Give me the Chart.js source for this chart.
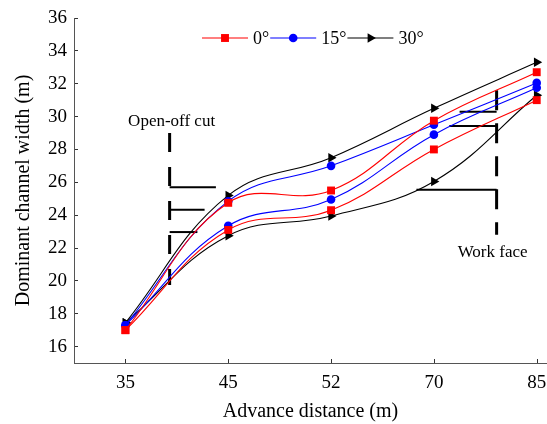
<!DOCTYPE html>
<html><head><meta charset="utf-8">
<script src="https://cdn.jsdelivr.net/npm/chart.js@4/dist/chart.umd.min.js"></script>
<style>html,body{margin:0;padding:0;background:#fff;}</style>
</head><body>
<canvas id="c" width="547" height="424"></canvas>
<script>
// ---- data ----
const xLabels = ['35', '45', '52', '70', '85'];
const yTicks = [16, 18, 20, 22, 24, 26, 28, 30, 32, 34, 36];
const seriesNames = ['0°', '15°', '30°'];
const deg0Upper  = [17.0, 24.75, 25.5, 29.75, 32.7];
const deg0Lower  = [17.0, 23.1, 24.3, 28.0, 31.0];
const deg15Upper = [17.3, 24.85, 27.0, 29.5, 32.05];
const deg15Lower = [17.3, 23.35, 24.95, 28.9, 31.75];
const deg30Upper = [17.45, 25.2, 27.5, 30.5, 33.3];
const deg30Lower = [17.45, 22.75, 23.95, 26.05, 31.3];
// annotation marks (data units: x = category index, y = width)
const openCutX = 0.43;
const openCutY = [29.0, 19.75];
const openCutBarY = [25.7, 24.33, 22.97];
const openCutBarEndX = [0.88, 0.77, 0.70];
const workFaceX = 3.61;
const workFaceY = [31.6, 22.8];
const workFaceBarY = [30.3, 29.43, 25.54];
const workFaceBarStartX = [3.25, 3.15, 2.83];
const annotationTexts = ['Open-off cut', 'Work face'];

const FONT = '"Liberation Serif", "Times New Roman", serif';
Chart.defaults.font.family = FONT;
Chart.defaults.color = '#000';

const toXY = arr => arr.map((v, i) => ({x: i, y: v}));

function series(values, color, style, radius, rot, legendText) {
  return {
    data: toXY(values), borderColor: color, backgroundColor: color,
    pointBackgroundColor: color, pointBorderColor: color, pointBorderWidth: 0,
    pointStyle: style, pointRadius: radius, pointRotation: rot,
    borderWidth: 1.1, tension: 0.4, fill: false, order: 0, legendText: legendText
  };
}
function annot(points, width, dash) {
  return {
    data: points, borderColor: '#000', borderWidth: width, borderDash: dash || [],
    pointRadius: 0, tension: 0, fill: false, order: 10, borderCapStyle: 'butt'
  };
}

const datasets = [
  series(deg0Upper, '#ff0000', 'rect', 5.6, 0, seriesNames[0]),
  series(deg0Lower, '#ff0000', 'rect', 5.6, 0, null),
  series(deg15Upper, '#0000ff', 'circle', 4.3, 0, seriesNames[1]),
  series(deg15Lower, '#0000ff', 'circle', 4.3, 0, null),
  series(deg30Upper, '#000000', 'triangle', 5.5, 90, seriesNames[2]),
  series(deg30Lower, '#000000', 'triangle', 5.5, 90, null),
  annot([{x: openCutX, y: openCutY[0]}, {x: openCutX, y: openCutY[1]}], 3, [19, 15]),
  annot([{x: workFaceX, y: workFaceY[0]}, {x: workFaceX, y: workFaceY[1]}], 3, [20, 13]),
];
openCutBarY.forEach((y, i) => datasets.push(annot([{x: openCutX, y: y}, {x: openCutBarEndX[i], y: y}], 2)));
workFaceBarY.forEach((y, i) => datasets.push(annot([{x: workFaceBarStartX[i], y: y}, {x: workFaceX, y: y}], 2)));

const extras = {
  id: 'extras',
  afterDraw(chart) {
    const ctx = chart.ctx, sx = chart.scales.x, sy = chart.scales.y;
    ctx.save();
    // inward x tick marks
    ctx.strokeStyle = '#333'; ctx.lineWidth = 1;
    sx.ticks.forEach(t => {
      const px = Math.round(sx.getPixelForValue(t.value)) + 0.5;
      ctx.beginPath(); ctx.moveTo(px, sx.top); ctx.lineTo(px, sx.top - 4); ctx.stroke();
    });
    // annotation texts
    ctx.font = '17px ' + FONT;
    ctx.fillStyle = '#000';
    ctx.textAlign = 'center';
    ctx.textBaseline = 'middle';
    ctx.fillText(annotationTexts[0], sx.getPixelForValue(openCutX) + 2, sy.getPixelForValue(openCutY[0]) - 11);
    ctx.fillText(annotationTexts[1], sx.getPixelForValue(workFaceX) - 4, sy.getPixelForValue(workFaceY[1]) + 18);
    // legend
    ctx.font = '18px ' + FONT;
    ctx.textAlign = 'left';
    let x = 202; const y = 38;
    chart.data.datasets.forEach(ds => {
      if (!ds.legendText) return;
      ctx.strokeStyle = ds.borderColor; ctx.lineWidth = 1.1; ctx.setLineDash([]);
      ctx.beginPath(); ctx.moveTo(x, y); ctx.lineTo(x + 46, y); ctx.stroke();
      ctx.fillStyle = ds.pointBackgroundColor;
      Chart.helpers.drawPoint(ctx, {pointStyle: ds.pointStyle, radius: ds.pointRadius, rotation: ds.pointRotation, borderWidth: 0}, x + 23, y);
      ctx.fillStyle = '#000';
      ctx.fillText(ds.legendText, x + 51, y + 1);
      x = x + 51 + ctx.measureText(ds.legendText).width + 1;
    });
    ctx.restore();
  }
};

new Chart(document.getElementById('c'), {
  type: 'line',
  data: {datasets: datasets},
  plugins: [extras],
  options: {
    responsive: false, animation: false, devicePixelRatio: 1,
    layout: {autoPadding: false, padding: {top: 18, right: 0, left: 0, bottom: 0}},
    plugins: {legend: {display: false}, tooltip: {enabled: false}},
    elements: {line: {borderCapStyle: 'butt'}},
    scales: {
      x: {
        type: 'linear', min: -0.5, max: 4.1,
        afterBuildTicks: s => { s.ticks = xLabels.map((_, i) => ({value: i})); },
        afterFit: s => { s.height = 61; s.paddingLeft = 0; s.paddingRight = 0; },
        ticks: {font: {size: 19}, padding: 0, color: '#000', maxRotation: 0,
                callback: v => xLabels[v]},
        grid: {drawOnChartArea: false, tickLength: 9, tickColor: 'rgba(0,0,0,0)'},
        border: {color: '#555', width: 1},
        title: {display: true, text: 'Advance distance (m)', font: {size: 20}, padding: {top: 0, bottom: 0}, color: '#000'}
      },
      y: {
        type: 'linear', min: 15, max: 36,
        afterBuildTicks: s => { s.ticks = yTicks.map(v => ({value: v})); },
        afterFit: s => { s.width = 74; s.paddingTop = 0; s.paddingBottom = 0; },
        ticks: {font: {size: 19}, padding: 11, color: '#000'},
        grid: {drawOnChartArea: false, tickLength: -4, color: '#333', tickWidth: 1},
        border: {color: '#555', width: 1},
        title: {display: true, text: 'Dominant channel width (m)', font: {size: 20}, padding: {top: 12, bottom: 0}, color: '#000'}
      }
    }
  }
});
</script>
</body></html>
